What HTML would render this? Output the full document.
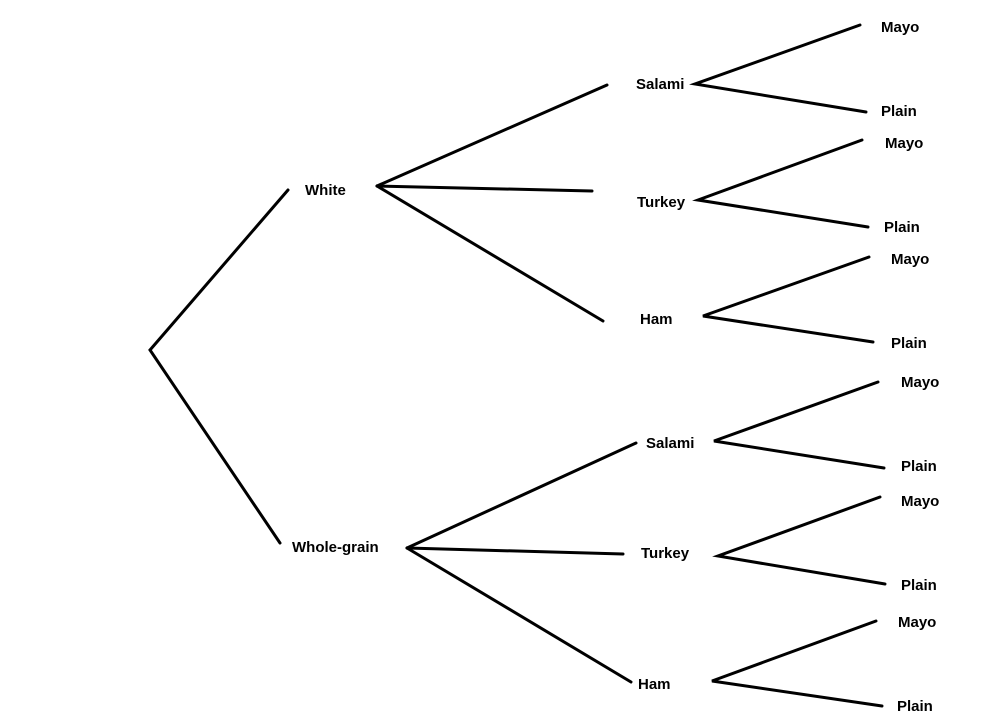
<!DOCTYPE html>
<html><head><meta charset="utf-8"><style>
html,body{margin:0;padding:0;background:#fff;}
svg{display:block;}
text{font-family:"Liberation Sans",sans-serif;font-weight:bold;font-size:15px;fill:#000;}
</style></head><body>
<svg width="1000" height="728" viewBox="0 0 1000 728" xmlns="http://www.w3.org/2000/svg">
<g stroke="#000" stroke-width="3" fill="none" stroke-linecap="round">
<polyline points="288,190 150,350 280,543"/>
<line x1="377" y1="186" x2="607" y2="85"/>
<line x1="377" y1="186" x2="592" y2="191"/>
<line x1="377" y1="186" x2="603" y2="321"/>
<line x1="407" y1="548" x2="636" y2="443"/>
<line x1="407" y1="548" x2="623" y2="554"/>
<line x1="407" y1="548" x2="631" y2="682"/>
<polyline points="860,25 695,84 866,112"/>
<polyline points="862,140 698,200 868,227"/>
<polyline points="869,257 703,316 873,342"/>
<polyline points="878,382 714,441 884,468"/>
<polyline points="880,497 718,556 885,584"/>
<polyline points="876,621 712,681 882,706"/>
</g>
<text x="305" y="195">White</text>
<text x="292" y="552">Whole-grain</text>
<text x="636" y="89">Salami</text>
<text x="637" y="207">Turkey</text>
<text x="640" y="324">Ham</text>
<text x="646" y="448">Salami</text>
<text x="641" y="558">Turkey</text>
<text x="638" y="689">Ham</text>
<text x="881" y="32">Mayo</text>
<text x="881" y="116">Plain</text>
<text x="885" y="148">Mayo</text>
<text x="884" y="232">Plain</text>
<text x="891" y="264">Mayo</text>
<text x="891" y="348">Plain</text>
<text x="901" y="387">Mayo</text>
<text x="901" y="471">Plain</text>
<text x="901" y="506">Mayo</text>
<text x="901" y="590">Plain</text>
<text x="898" y="627">Mayo</text>
<text x="897" y="711">Plain</text>
</svg>
</body></html>
